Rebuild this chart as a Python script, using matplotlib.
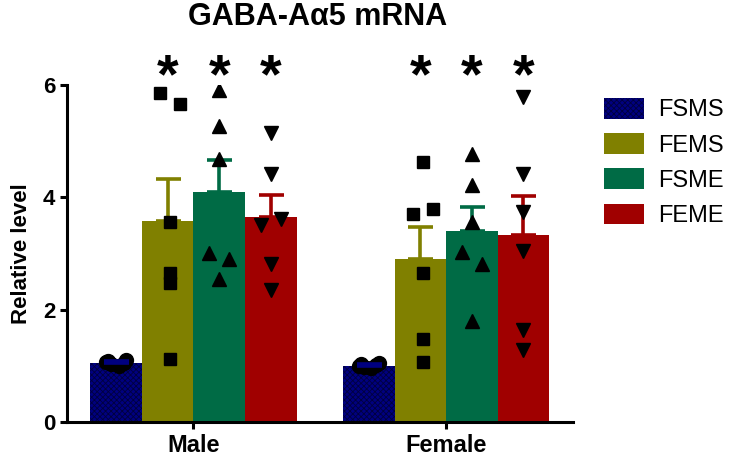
import numpy as np
import matplotlib
matplotlib.use("Agg")
import matplotlib.pyplot as plt
from matplotlib.patches import Patch

plt.rcParams['font.family'] = ['Liberation Sans', 'DejaVu Sans']
plt.rcParams['hatch.linewidth'] = 0.6

# groups and series
groups = ['Male', 'Female']
series = ['FSMS', 'FEMS', 'FSME', 'FEME']
colors = ['#000080', '#808000', '#006b45', '#a00000']
markers = ['o', 's', '^', 'v']

# bar means and SEM (upper only)
means = {
    'FSMS': [1.05, 1.00],
    'FEMS': [3.58, 2.90],
    'FSME': [4.09, 3.40],
    'FEME': [3.65, 3.33],
}
sems = {
    'FSMS': [0.03, 0.03],
    'FEMS': [0.74, 0.58],
    'FSME': [0.58, 0.42],
    'FEME': [0.40, 0.69],
}

# individual points, male then female
points = {
    'FSMS': [[1.09, 1.10, 1.03, 1.00, 1.06, 1.05],
             [1.04, 1.05, 0.98, 0.96, 1.00, 1.01]],
    'FEMS': [[5.85, 5.67, 3.56, 2.65, 2.48, 1.13],
             [4.63, 3.70, 3.79, 2.66, 1.47, 1.06]],
    'FSME': [[5.92, 5.27, 4.69, 3.01, 2.91, 2.54],
             [4.78, 4.22, 3.56, 3.03, 2.81, 1.80]],
    'FEME': [[5.14, 4.41, 3.50, 3.62, 2.81, 2.35],
             [5.79, 4.42, 3.74, 3.04, 1.64, 1.29]],
}
# horizontal jitter of the points (x units)
jitter = {
    'FSMS': [[-0.03, 0.04, -0.02, 0.01, -0.04, 0.03],
             [-0.03, 0.04, -0.02, 0.01, -0.04, 0.03]],
    'FEMS': [[-0.03, 0.05, 0.01, 0.01, 0.01, 0.01],
             [0.01, -0.03, 0.05, 0.01, 0.01, 0.01]],
    'FSME': [[0.0, 0.0, 0.0, -0.04, 0.04, 0.0],
             [0.0, 0.0, 0.0, -0.04, 0.04, 0.0]],
    'FEME': [[0.0, 0.0, -0.04, 0.04, 0.0, 0.0],
             [0.0, 0.0, 0.0, 0.0, 0.0, 0.0]],
}
star_series = ['FEMS', 'FSME', 'FEME']

fig = plt.figure(figsize=(7.39, 4.61), dpi=100)
ax = fig.add_axes([0.0907, 0.0846, 0.684, 0.731])

x = np.arange(len(groups))
w = 0.204

for i, s in enumerate(series):
    pos = x + (i - 1.5) * w
    hatch = 'xxxxxx' if s == 'FSMS' else None
    ax.bar(pos, means[s], width=w, color=colors[i], edgecolor='#000040' if hatch else colors[i],
           linewidth=0, hatch=hatch, zorder=2)
    ax.errorbar(pos, means[s], yerr=[np.zeros(len(groups)), sems[s]], fmt='none',
                ecolor=colors[i], elinewidth=2.6, capsize=9, capthick=2.6,
                zorder=4 if s == 'FSMS' else 2.5)
    for g in range(len(groups)):
        px = pos[g] + np.array(jitter[s][g])
        ax.plot(px, points[s][g], linestyle='none', marker=markers[i],
                markersize=9 if markers[i] == 's' else 10, color='black', zorder=3)
    if s in star_series:
        for g in range(len(groups)):
            ax.text(pos[g], 5.65, '*', ha='center', va='bottom', fontsize=40,
                    fontweight='bold', clip_on=False)

ax.set_xlim(-0.5, 1.5)
ax.set_ylim(0, 6)
ax.set_yticks([0, 2, 4, 6])
ax.set_xticks(x)
ax.set_xticklabels(groups)
ax.spines['top'].set_visible(False)
ax.spines['right'].set_visible(False)
ax.spines['left'].set_linewidth(2.2)
ax.spines['bottom'].set_linewidth(2.2)
ax.tick_params(width=2.2, length=5)
ax.tick_params(axis='y', labelsize=16)
ax.tick_params(axis='x', labelsize=17)
for lab in ax.get_xticklabels() + ax.get_yticklabels():
    lab.set_fontweight('bold')
ax.set_ylabel('Relative level', fontsize=16, fontweight='bold', labelpad=8)

fig.text(0.430, 0.963, 'GABA-A\u03b15 mRNA', ha='center', va='center',
         fontsize=22, fontweight='bold')

handles = [Patch(facecolor=colors[i], edgecolor='#000040' if i == 0 else colors[i],
                 linewidth=0, hatch='xxxxxx' if i == 0 else None)
           for i in range(len(series))]
fig.legend(handles, series, loc='upper left', bbox_to_anchor=(0.817, 0.787),
           frameon=False, fontsize=17, handlelength=1.7, handleheight=0.95,
           labelspacing=0.5, handletextpad=0.6, borderpad=0, borderaxespad=0)

fig.savefig('out.png', dpi=100)
